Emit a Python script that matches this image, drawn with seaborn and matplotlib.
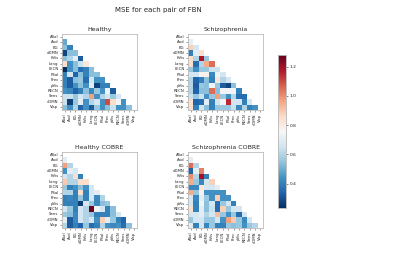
import numpy as np
import pandas as pd
import matplotlib
matplotlib.use("Agg")
import matplotlib.pyplot as plt
import seaborn as sns

labels = ["ASal", "Aud", "BG", "dDMN", "hVis", "Lang", "LECN", "PSal",
          "Prec", "pVis", "RECN", "Sens", "vDMN", "Visp"]

titles = ["Healthy", "Schizophrenia", "Healthy COBRE", "Schizophrenia COBRE"]

# lower-triangle rows (row i has i values, columns 0..i-1)
healthy = [
    [0.49],
    [0.54, 0.40],
    [0.28, 0.54, 0.54],
    [0.54, 0.60, 0.70, 0.32],
    [0.85, 0.44, 0.54, 0.64, 0.82],
    [0.23, 0.44, 0.54, 0.36, 0.40, 0.54],
    [0.40, 0.66, 0.34, 0.54, 0.40, 0.54, 0.54],
    [0.40, 0.32, 0.54, 0.56, 0.36, 0.66, 0.44, 0.44],
    [0.40, 0.32, 0.44, 0.54, 0.44, 0.70, 0.27, 0.40, 0.40],
    [0.44, 0.42, 0.34, 0.40, 0.54, 0.42, 0.56, 0.44, 0.74, 0.32],
    [0.64, 0.64, 0.56, 0.66, 0.60, 0.97, 0.44, 0.60, 0.66, 0.56, 0.66],
    [0.64, 0.27, 0.56, 0.70, 0.44, 0.60, 0.66, 0.44, 1.10, 0.85, 0.74, 0.44],
    [0.54, 0.44, 0.60, 0.34, 0.44, 0.32, 0.56, 0.44, 0.54, 0.64, 0.44, 0.44, 0.54],
]

schizo = [
    [0.70],
    [0.88, 0.66],
    [0.40, 0.70, 0.85],
    [0.85, 0.60, 1.18, 0.56],
    [0.85, 0.36, 0.60, 0.95, 1.05],
    [0.56, 0.44, 0.56, 0.56, 0.64, 0.64],
    [0.66, 0.66, 0.78, 0.78, 0.42, 0.74, 0.66],
    [0.60, 0.34, 0.40, 0.54, 0.40, 0.82, 0.60, 0.66],
    [0.60, 0.32, 0.56, 0.54, 0.74, 0.56, 0.32, 0.28, 0.54],
    [0.60, 0.34, 0.54, 0.54, 1.05, 0.54, 0.74, 0.74, 0.74, 0.40],
    [0.64, 0.56, 0.64, 0.44, 0.56, 0.97, 0.56, 0.44, 0.60, 0.36, 0.36],
    [0.85, 0.34, 0.36, 0.70, 0.40, 0.66, 0.74, 1.15, 0.66, 0.66, 0.40, 0.66],
    [0.85, 0.40, 0.66, 0.54, 0.40, 0.56, 0.56, 0.56, 0.64, 0.42, 0.60, 0.40, 0.44],
]

healthy_cobre = [
    [0.70],
    [0.97, 0.60],
    [0.44, 0.70, 0.66],
    [0.66, 0.60, 0.85, 0.40],
    [0.90, 0.60, 0.60, 0.85, 0.85],
    [0.56, 0.40, 0.44, 0.54, 0.44, 0.66],
    [0.60, 0.60, 0.40, 0.85, 0.40, 0.66, 0.70],
    [0.40, 0.42, 0.40, 0.56, 0.40, 0.66, 0.42, 0.60],
    [0.40, 0.40, 0.40, 0.26, 0.66, 0.56, 0.42, 0.54, 0.56],
    [0.66, 0.56, 0.40, 0.66, 0.60, 1.27, 0.74, 0.66, 0.40, 0.54],
    [0.56, 0.54, 0.42, 0.66, 0.60, 0.56, 0.40, 0.40, 0.40, 0.54, 0.66],
    [0.70, 0.32, 0.42, 0.66, 0.60, 0.66, 0.44, 0.88, 0.70, 0.56, 0.40, 0.34],
    [0.60, 0.32, 0.40, 0.34, 0.56, 0.36, 0.40, 0.60, 0.44, 0.42, 0.44, 0.36, 0.54],
]

schizo_cobre = [
    [0.70],
    [1.05, 0.60],
    [0.34, 0.70, 1.02],
    [1.00, 0.60, 1.20, 0.40],
    [0.95, 0.56, 0.42, 0.66, 0.88],
    [0.42, 0.42, 0.82, 0.66, 0.66, 0.70],
    [0.95, 0.56, 0.78, 0.44, 0.44, 0.44, 0.44],
    [0.66, 0.42, 0.70, 0.56, 0.44, 0.88, 0.44, 0.44],
    [0.66, 0.40, 0.74, 0.54, 0.66, 0.36, 0.56, 0.66, 0.40],
    [0.85, 0.40, 0.70, 0.54, 0.64, 0.36, 0.88, 0.56, 0.66, 0.66],
    [0.66, 0.66, 0.70, 0.60, 0.66, 0.92, 0.56, 0.44, 0.56, 0.36, 0.66],
    [0.56, 0.66, 0.66, 0.56, 0.56, 0.66, 0.44, 0.97, 0.90, 0.56, 0.42, 0.66],
    [0.70, 0.40, 0.66, 0.42, 0.56, 0.40, 0.40, 0.56, 0.54, 0.56, 0.44, 0.56, 0.60],
]

cbar_ticks = [0.4, 0.6, 0.8, 1.0, 1.2]
vmin, vmax = 0.234, 1.28


def to_frame(rows):
    n = len(labels)
    m = np.zeros((n, n))
    for i, row in enumerate(rows, start=1):
        for j, v in enumerate(row):
            m[i, j] = v
            m[j, i] = v
    return pd.DataFrame(m, index=labels, columns=labels)


sns.set_style("white")
plt.rcParams['font.family'] = ['DejaVu Sans']

fig = plt.figure(figsize=(4.0, 2.67), dpi=100)
W, H = 400, 267
boxes = [(62, 34), (188, 34), (62, 152), (188, 152)]
aw, ah = 75, 76
cax = fig.add_axes([278 / W, 1 - 208 / H, 8 / W, 153 / H])
mask = np.triu(np.ones((len(labels), len(labels)), dtype=bool))

for k, (data, title) in enumerate(zip([healthy, schizo, healthy_cobre, schizo_cobre], titles)):
    x0, y0 = boxes[k]
    ax = fig.add_axes([x0 / W, 1 - (y0 + ah) / H, aw / W, ah / H])
    df = to_frame(data)
    sns.heatmap(df, mask=mask, cmap="RdBu_r", vmin=vmin, vmax=vmax, ax=ax,
                cbar=(k == 0), cbar_ax=cax if k == 0 else None,
                cbar_kws={"ticks": cbar_ticks} if k == 0 else None,
                xticklabels=labels, yticklabels=labels, square=False)
    ax.set_title(title, fontsize=4.5, pad=2)
    ax.tick_params(axis='both', labelsize=2.8, length=1.5, width=0.4, pad=1,
                   left=True, bottom=True, color="#555555")
    ax.set_xticklabels(labels, rotation=90)
    ax.set_yticklabels(labels, rotation=0)
    for s in ax.spines.values():
        s.set_visible(True)
        s.set_color("#bbbbbb")
        s.set_linewidth(0.6)

cax.tick_params(labelsize=3.2, length=1.5, width=0.4, pad=1)
for s in cax.spines.values():
    s.set_visible(True)
    s.set_color("#bbbbbb")
    s.set_linewidth(0.5)

fig.text(158 / W, 1 - 10 / H, "MSE for each pair of FBN", ha="center", va="center", fontsize=5)

fig.savefig("out.png", dpi=100)
